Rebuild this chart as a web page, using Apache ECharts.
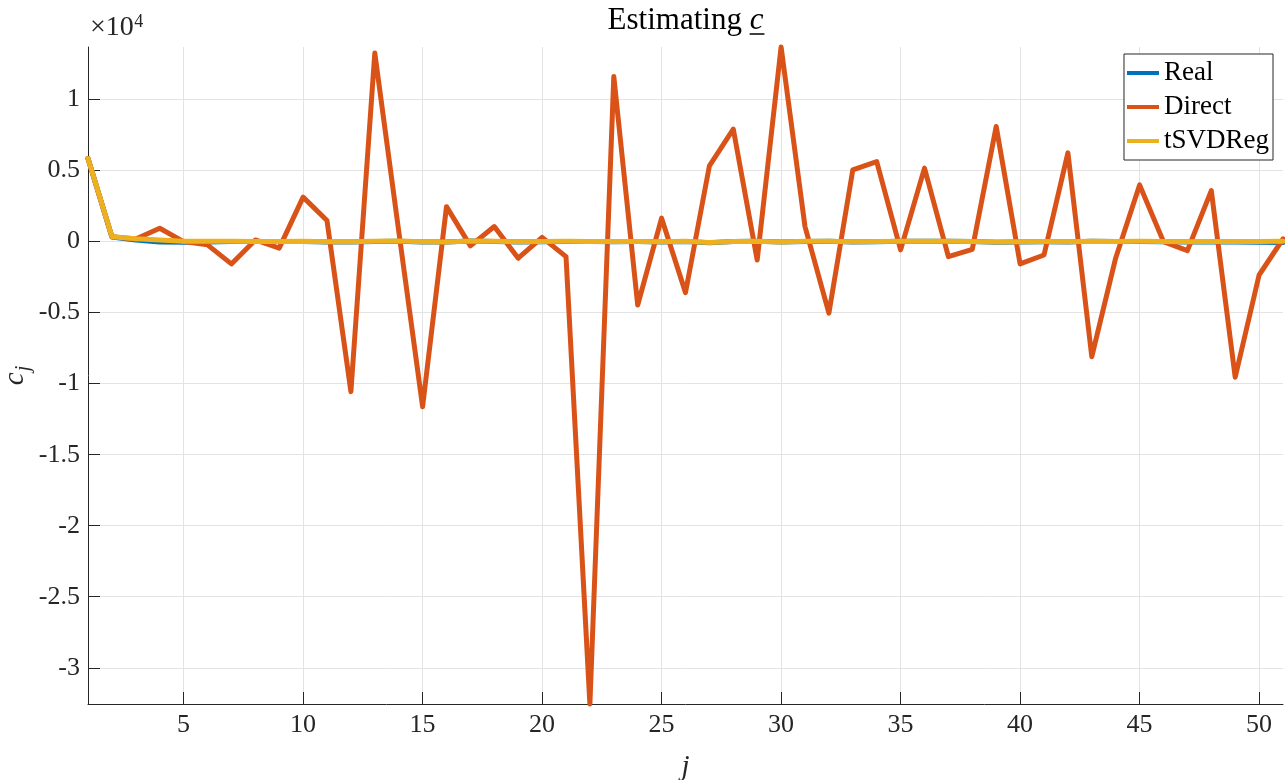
<!DOCTYPE html>
<html>
<head>
<meta charset="utf-8">
<title>Estimating c</title>
<script src="https://cdn.jsdelivr.net/npm/echarts@6/dist/echarts.min.js"></script>
<style>
  html, body { margin: 0; padding: 0; background: #fff; }
  #chart { width: 1285px; height: 780px; }
</style>
</head>
<body>
<div id="chart"></div>
<script>
// index j of the coefficient
const jValues = [1, 2, 3, 4, 5, 6, 7, 8, 9, 10, 11, 12, 13, 14, 15, 16, 17, 18, 19, 20,
  21, 22, 23, 24, 25, 26, 27, 28, 29, 30, 31, 32, 33, 34, 35, 36, 37, 38, 39, 40,
  41, 42, 43, 44, 45, 46, 47, 48, 49, 50, 51];

// true coefficients c_j
const realValues = [5850, 330, 110, -20, -40, -20, 0, 0, 0, 10, -20, -20, 10, 30, -20,
  -30, 40, 10, -20, -10, 10, 0, -10, 0, -20, 10, -80, 0, 20, -30,
  10, 20, -20, -10, 20, 20, 20, 0, -40, -20, -10, -20, 20, 0, 10,
  -10, -20, -20, -30, -40, -60];

// direct (unregularised) solve
const directValues = [5850, 350, 190, 940, 0, -230, -1570, 120, -460, 3130, 1480, -10560, 13270,
  750, -11620, 2460, -300, 1060, -1170, 300, -1060, -32550, 11620, -4460, 1650,
  -3590, 5330, 7920, -1290, 13700, 1060, -5040, 5050, 5630, -580, 5170, -1060,
  -540, 8100, -1570, -940, 6250, -8100, -1150, 3990, 0, -630, 3590, -9550,
  -2350, 190];

// truncated-SVD regularised solve
const tsvdValues = [5850, 350, 200, 110, 30, 20, 20, 10, 0, 20, -10, -10, 20, 40, -10,
  -20, 50, 20, -10, 0, 20, 10, 0, 10, -10, 20, -60, 10, 30, -20,
  20, 30, -10, 0, 30, 30, 30, 10, -30, -10, 0, -10, 30, 10, 20,
  0, -10, 0, 10, 10, 20];

// axis tick positions
const xTicks = [5, 10, 15, 20, 25, 30, 35, 40, 45, 50];
const yTicks = [-30000, -25000, -20000, -15000, -10000, -5000, 0, 5000, 10000];
const yScale = 10000; // tick labels are shown in units of 10^4

const seriesNames = ['Real', 'Direct', 'tSVDReg'];
const seriesColors = ['#0072BD', '#D95319', '#EDB120'];
const seriesValues = [realValues, directValues, tsvdValues];

const FONT = '"Liberation Serif", "DejaVu Serif", serif';
const INK = '#262626';

const allValues = [].concat(realValues, directValues, tsvdValues);
const yMin = Math.min.apply(null, allValues);
const yMax = Math.max.apply(null, allValues);

// text measuring for the hand-placed text pieces
const measureCtx = document.createElement('canvas').getContext('2d');
function textWidth(str, font) {
  measureCtx.font = font;
  return measureCtx.measureText(str).width;
}

const titleSize = 31;
const titleFont = titleSize + 'px ' + FONT;
const titleItalicFont = 'italic ' + titleSize + 'px ' + FONT;
const titleLead = 'Estimating ';
const wLead = textWidth(titleLead, titleFont);
const wC = textWidth('c', titleItalicFont);
const titleCenter = 685.5;
const titleBaseline = 31.5;
const titleStart = titleCenter - (wLead + wC) / 2;
const titleMidY = titleBaseline - 0.34 * titleSize;

const expSize = 28;
const expFont = expSize + 'px ' + FONT;
const wTimes = textWidth('\u00d710', expFont);

// rotated y-axis label c_j
const yLabSize = 29;
const yLabFont = 'italic ' + yLabSize + 'px ' + FONT;
const ySubSize = 20;
const ySubFont = 'italic ' + ySubSize + 'px ' + FONT;
const wYc = textWidth('c', yLabFont);
const wYj = textWidth('j', ySubFont);
const yLabLen = wYc + 1 + wYj;

const chart = echarts.init(document.getElementById('chart'), null, { renderer: 'canvas' });

const option = {
  backgroundColor: '#ffffff',
  animation: false,
  textStyle: { fontFamily: FONT },
  grid: { left: 88, right: 2, top: 47, bottom: 76, containLabel: false, outerBoundsMode: 'none' },
  legend: {
    orient: 'vertical',
    right: 12,
    top: 54,
    data: seriesNames,
    icon: 'rect',
    itemWidth: 32,
    itemHeight: 4,
    itemGap: 4,
    padding: [4, 4, 4, 3],
    backgroundColor: '#ffffff',
    borderColor: INK,
    borderWidth: 1,
    borderRadius: 0,
    selectedMode: false,
    textStyle: { fontFamily: FONT, fontSize: 27, color: '#000000', lineHeight: 30 }
  },
  xAxis: {
    type: 'value',
    min: jValues[0],
    max: jValues[jValues.length - 1],
    name: 'j',
    nameLocation: 'middle',
    nameGap: 49,
    nameTextStyle: { fontFamily: FONT, fontSize: 29, fontStyle: 'italic', color: INK },
    axisLine: { show: true, onZero: false, lineStyle: { color: INK, width: 1 } },
    axisTick: { show: true, inside: true, length: 12, customValues: xTicks, lineStyle: { color: INK, width: 1 } },
    axisLabel: { customValues: xTicks, fontFamily: FONT, fontSize: 26, color: INK, margin: 8 },
    splitLine: { show: true, lineStyle: { color: '#e3e3e3', width: 1 } }
  },
  yAxis: {
    type: 'value',
    min: yMin,
    max: yMax,
    axisLine: { show: true, onZero: false, lineStyle: { color: INK, width: 1 } },
    axisTick: { show: true, inside: true, length: 12, customValues: yTicks, lineStyle: { color: INK, width: 1 } },
    axisLabel: {
      customValues: yTicks,
      fontFamily: FONT, fontSize: 26, color: INK, margin: 8,
      formatter: function (v) { return String(Math.round(v / yScale * 10) / 10); }
    },
    splitLine: { show: true, lineStyle: { color: '#e3e3e3', width: 1 } }
  },
  graphic: [
    { type: 'text', x: titleStart, y: titleMidY, silent: true,
      style: { text: titleLead, font: titleFont, fill: '#000000', align: 'left', verticalAlign: 'middle' } },
    { type: 'text', x: titleStart + wLead, y: titleMidY, silent: true,
      style: { text: 'c', font: titleItalicFont, fill: '#000000', align: 'left', verticalAlign: 'middle' } },
    { type: 'line', silent: true,
      shape: { x1: titleStart + wLead, y1: titleBaseline + 2.5, x2: titleStart + wLead + wC + 1, y2: titleBaseline + 2.5 },
      style: { stroke: '#000000', lineWidth: 1.5 } },
    { type: 'text', x: 90, y: 37.5 - 0.34 * expSize, silent: true,
      style: { text: '\u00d710', font: expFont, fill: INK, align: 'left', verticalAlign: 'middle' } },
    { type: 'text', x: 90 + wTimes + 0.5, y: 28.5 - 0.34 * 18, silent: true,
      style: { text: '4', font: '18px ' + FONT, fill: INK, align: 'left', verticalAlign: 'middle' } },
    {
      type: 'group', x: 25, y: 375.5 + yLabLen / 2, rotation: Math.PI / 2, silent: true,
      children: [
        { type: 'text', x: 0, y: -0.34 * yLabSize,
          style: { text: 'c', font: yLabFont, fill: INK, align: 'left', verticalAlign: 'middle' } },
        { type: 'text', x: wYc + 1, y: 6 - 0.34 * ySubSize,
          style: { text: 'j', font: ySubFont, fill: INK, align: 'left', verticalAlign: 'middle' } }
      ]
    }
  ],
  series: seriesNames.map(function (name, k) {
    return {
      name: name,
      type: 'line',
      data: jValues.map(function (j, i) { return [j, seriesValues[k][i]]; }),
      symbol: 'none',
      clip: false,
      z: 2 + k,
      color: seriesColors[k],
      lineStyle: { color: seriesColors[k], width: 5, cap: 'round', join: 'round' },
      emphasis: { disabled: true }
    };
  })
};

chart.setOption(option);
</script>
</body>
</html>
